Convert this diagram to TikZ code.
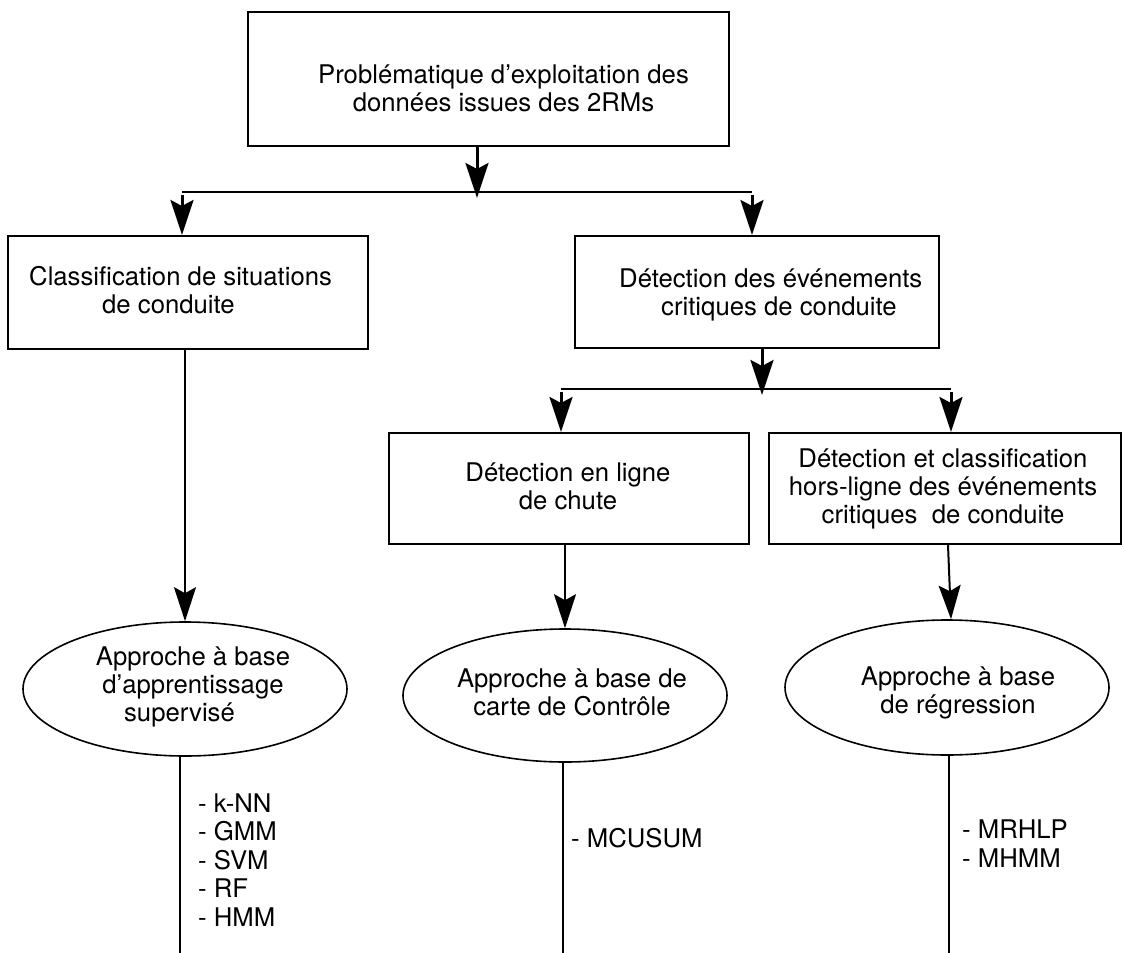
\documentclass[tikz,border=0pt]{standalone}
\usepackage{fontspec}
\setmainfont{TeX Gyre Heros}
\usetikzlibrary{arrows.meta,shapes.geometric}
\begin{document}
\begin{tikzpicture}[x=1pt,y=-1pt,
  box/.style={draw, rectangle, line width=2pt, inner sep=0pt},
  ell/.style={draw, ellipse, line width=1.6pt, inner sep=0pt, minimum width=324pt},
  txt/.style={inner sep=0pt, font=\fontsize{25.7}{28}\selectfont},
  lst/.style={inner sep=0pt, align=left, font=\fontsize{25.7}{28.5}\selectfont},
  bigarrow/.style={line width=3pt, -{Stealth[length=35pt,width=23pt,inset=6pt]}},
  smallarrow/.style={line width=2pt, -{Stealth[length=34pt,width=22pt,inset=6pt]}},
  branch/.style={line width=1.3pt},
  vline/.style={line width=2pt}]
\path[use as bounding box, fill=white] (0,0) rectangle (1125,953);

% boxes
\node[box, minimum width=481pt, minimum height=134pt] (top) at (488.5,79) {};
\node[box, minimum width=360pt, minimum height=113pt] (b1) at (188,292.5) {};
\node[box, minimum width=364pt, minimum height=112pt] (b2) at (757,292) {};
\node[box, minimum width=360pt, minimum height=111pt] (b3) at (569,488.5) {};
\node[box, minimum width=352pt, minimum height=111pt] (b4) at (945,488.5) {};

% ellipses
\node[ell, minimum height=134pt] (e1) at (185,689) {};
\node[ell, minimum height=133pt] (e2) at (565,695.5) {};
\node[ell, minimum height=135pt] (e3) at (947,687.5) {};

% texts
\node[txt, align=center] (t0) at (503.5,88) {Problématique d’exploitation des\\données issues des 2RMs};
\node[txt, align=left, anchor=west] (t1) at (29,290) {Classification de situations\\\hspace*{73pt}de conduite};
\node[txt, align=left, anchor=west] (t2) at (619,295.4) {Détection des événements\\\hspace*{42pt}critiques de conduite};
\node[txt, align=center] (t3) at (568,486) {Détection en ligne\\de chute};
\node[txt, align=center] (t4) at (943,488.4) {Détection et classification\\hors-ligne des événements\\critiques\ \ de conduite};
\node[txt, align=center] (te1) at (193,687.4) {Approche à base\\d’apprentissage\\supervisé\hspace*{27pt}};
\node[txt, align=center] (te2) at (572,692) {Approche à base de\\carte de Contrôle};
\node[txt, align=center] (te3) at (958,693.4) {Approche à base\\de régression};

\node[lst, anchor=west] (l1) at (198,860) {- k-NN\\- GMM\\- SVM\\- RF\\- HMM};
\node[lst, anchor=base west] (l2) at (571,847) {- MCUSUM};
\node[lst, anchor=west, font=\fontsize{25.7}{29}\selectfont] (l3) at (962,843.5) {- MRHLP\\- MHMM};

% first branching
\coordinate (j1) at (477,198);
\coordinate (bl1) at (182,192);
\coordinate (br1) at (752,192);
\draw[bigarrow] (top.south -| j1) -- (j1);
\draw[branch] (bl1) -- (br1);
\draw[bigarrow] ([yshift=-3pt]bl1) -- (bl1 |- b1.north);
\draw[bigarrow] ([yshift=-3pt]br1) -- (br1 |- b2.north);

% second branching
\coordinate (j2) at (762,395);
\coordinate (bl2) at (561,389);
\coordinate (br2) at (951,389);
\draw[bigarrow] (b2.south -| j2) -- (j2);
\draw[branch] (bl2) -- (br2);
\draw[bigarrow] ([yshift=-3pt]bl2) -- (bl2 |- b3.north);
\draw[bigarrow] ([yshift=-3pt]br2) -- (br2 |- b4.north);

% boxes to ellipses
\draw[smallarrow] (b1.south -| e1.north) -- (e1.north);
\draw[smallarrow] (b3.south -| e2.north) -- (e2.north);
\draw[smallarrow] ([xshift=3pt]b4.south) -- ([xshift=4pt]e3.north);

% vertical lines under ellipses
\coordinate (end1) at (180,953);
\coordinate (end2) at (563,953);
\coordinate (end3) at (949,953);
\draw[vline] (end1 |- e1.south) -- (end1);
\draw[vline] (end2 |- e2.south) -- (end2);
\draw[vline] (end3 |- e3.south) -- (end3);
\end{tikzpicture}
\end{document}
